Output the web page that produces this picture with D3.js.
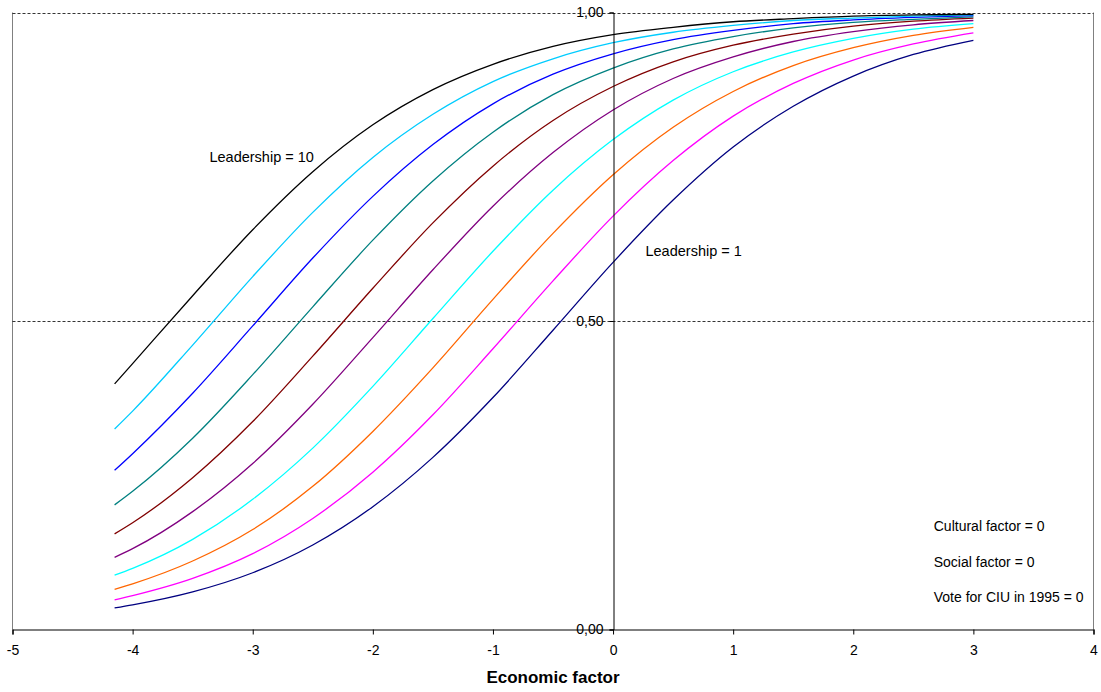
<!DOCTYPE html>
<html>
<head>
    <meta charset="utf-8">
    <title>Leadership curves</title>
    <script src="https://d3js.org/d3.v7.min.js"></script>
    <style>
        body { margin: 0; background: #fff; }
        text { font-family: "Liberation Sans", Arial, sans-serif; fill: #000; }
    </style>
</head>
<body>
    <script>
        // x values of the series (economic factor)
        var xs = [-4.15, -4, -3.5, -3, -2.5, -2, -1.5, -1, -0.5, 0, 0.5, 1, 1.5, 2, 2.5, 3];

        // probability curves, one per leadership level
        var lead1  = [0.035, 0.040, 0.061, 0.092, 0.137, 0.199, 0.279, 0.376, 0.485, 0.595, 0.696, 0.782, 0.848, 0.897, 0.932, 0.955];
        var lead2  = [0.048, 0.055, 0.083, 0.123, 0.180, 0.255, 0.348, 0.455, 0.565, 0.670, 0.760, 0.832, 0.885, 0.923, 0.949, 0.967];
        var lead3  = [0.065, 0.074, 0.111, 0.162, 0.232, 0.321, 0.424, 0.535, 0.642, 0.737, 0.814, 0.872, 0.914, 0.943, 0.963, 0.976];
        var lead4  = [0.088, 0.099, 0.146, 0.211, 0.294, 0.394, 0.504, 0.613, 0.712, 0.794, 0.858, 0.904, 0.936, 0.958, 0.973, 0.982];
        var lead5  = [0.117, 0.131, 0.191, 0.269, 0.365, 0.473, 0.583, 0.686, 0.773, 0.842, 0.893, 0.928, 0.953, 0.969, 0.980, 0.987];
        var lead6  = [0.155, 0.173, 0.246, 0.337, 0.443, 0.553, 0.659, 0.751, 0.825, 0.880, 0.920, 0.947, 0.965, 0.978, 0.986, 0.991];
        var lead7  = [0.202, 0.224, 0.310, 0.413, 0.523, 0.631, 0.727, 0.806, 0.867, 0.910, 0.941, 0.961, 0.975, 0.984, 0.989, 0.993];
        var lead8  = [0.258, 0.285, 0.383, 0.492, 0.602, 0.702, 0.786, 0.852, 0.900, 0.933, 0.956, 0.971, 0.982, 0.988, 0.992, 0.995];
        var lead9  = [0.325, 0.354, 0.461, 0.572, 0.676, 0.765, 0.835, 0.888, 0.925, 0.951, 0.968, 0.979, 0.987, 0.991, 0.994, 0.996];
        var lead10 = [0.398, 0.431, 0.541, 0.648, 0.742, 0.818, 0.875, 0.916, 0.945, 0.964, 0.976, 0.985, 0.990, 0.994, 0.996, 0.997];

        var series = [lead1, lead2, lead3, lead4, lead5, lead6, lead7, lead8, lead9, lead10];
        var colors = ["#000080", "#ff00ff", "#ff6600", "#00ffff", "#800080",
                      "#800000", "#008080", "#0000ff", "#00ccff", "#000000"];

        var xTicks = [-5, -4, -3, -2, -1, 0, 1, 2, 3, 4];
        var yTicks = [0, 0.5, 1];

        var W = 1101, H = 692;
        var plotL = 12.5, plotR = 1093.5, plotT = 12.5, plotB = 629.5;

        var x = d3.scaleLinear().domain([-5, 4]).range([plotL, plotR]);
        var y = d3.scaleLinear().domain([0, 1]).range([plotB, plotT]);

        var svg = d3.select("body").append("svg")
            .attr("width", W)
            .attr("height", H);

        // plot frame (left / right in gray)
        svg.append("line").attr("x1", plotL).attr("x2", plotL).attr("y1", plotT).attr("y2", plotB)
            .attr("stroke", "#808080").attr("stroke-width", 1);
        svg.append("line").attr("x1", plotR).attr("x2", plotR).attr("y1", plotT).attr("y2", plotB)
            .attr("stroke", "#808080").attr("stroke-width", 1);

        // dashed gridlines
        svg.selectAll(".grid").data([0.5, 1]).enter().append("line")
            .attr("class", "grid")
            .attr("x1", plotL).attr("x2", plotR)
            .attr("y1", function(d) { return Math.round(y(d)) + 0.5; })
            .attr("y2", function(d) { return Math.round(y(d)) + 0.5; })
            .attr("stroke", "#000")
            .attr("stroke-width", 0.8)
            .attr("stroke-dasharray", "3,2");

        // curves
        var line = d3.line()
            .x(function(d, i) { return x(xs[i]); })
            .y(function(d) { return y(d); })
            .curve(d3.curveMonotoneX);

        svg.selectAll(".curve").data(series).enter().append("path")
            .attr("class", "curve")
            .attr("d", line)
            .attr("fill", "none")
            .attr("stroke", function(d, i) { return colors[i]; })
            .attr("stroke-width", 1.3);

        // x axis
        var xAxis = svg.append("g")
            .attr("transform", "translate(0," + plotB + ")")
            .call(d3.axisBottom(x).tickValues(xTicks).tickSize(5)
                .tickFormat(function(d) { return String(d); }));
        xAxis.select(".domain").attr("stroke", "#000").attr("stroke-width", 1.2);
        xAxis.selectAll(".tick line").attr("stroke", "#000");
        xAxis.selectAll("text")
            .attr("dy", "1.25em")
            .style("font-size", "14px")
            .style("font-family", "Liberation Sans, Arial, sans-serif");

        // y axis at x = 0
        var yAxis = svg.append("g")
            .attr("transform", "translate(" + (Math.round(x(0)) + 0.5) + ",0)")
            .call(d3.axisLeft(y).tickValues(yTicks).tickSize(4).tickPadding(6)
                .tickFormat(function(d) { return d3.format(".2f")(d).replace(".", ","); }));
        yAxis.select(".domain").attr("stroke", "#000").attr("stroke-width", 1);
        yAxis.selectAll(".tick line").attr("stroke", "#000");
        yAxis.selectAll("text")
            .style("font-size", "14px")
            .style("font-family", "Liberation Sans, Arial, sans-serif");

        // axis title
        svg.append("text")
            .attr("x", (plotL + plotR) / 2)
            .attr("y", 683)
            .attr("text-anchor", "middle")
            .style("font-size", "17px")
            .style("font-weight", "bold")
            .text("Economic factor");

        // curve labels
        svg.append("text")
            .attr("x", x(-3.36)).attr("y", y(0.765) + 5)
            .style("font-size", "14.5px")
            .text("Leadership = 10");
        svg.append("text")
            .attr("x", x(0.27)).attr("y", y(0.614) + 5)
            .style("font-size", "14.5px")
            .text("Leadership = 1");

        // held-constant notes
        var notes = ["Cultural factor = 0", "Social factor = 0", "Vote for CIU in 1995 = 0"];
        svg.selectAll(".note").data(notes).enter().append("text")
            .attr("class", "note")
            .attr("x", x(2.67))
            .attr("y", function(d, i) { return y(0.167 - i * 0.057) + 5; })
            .style("font-size", "14px")
            .text(function(d) { return d; });
    </script>
</body>
</html>
